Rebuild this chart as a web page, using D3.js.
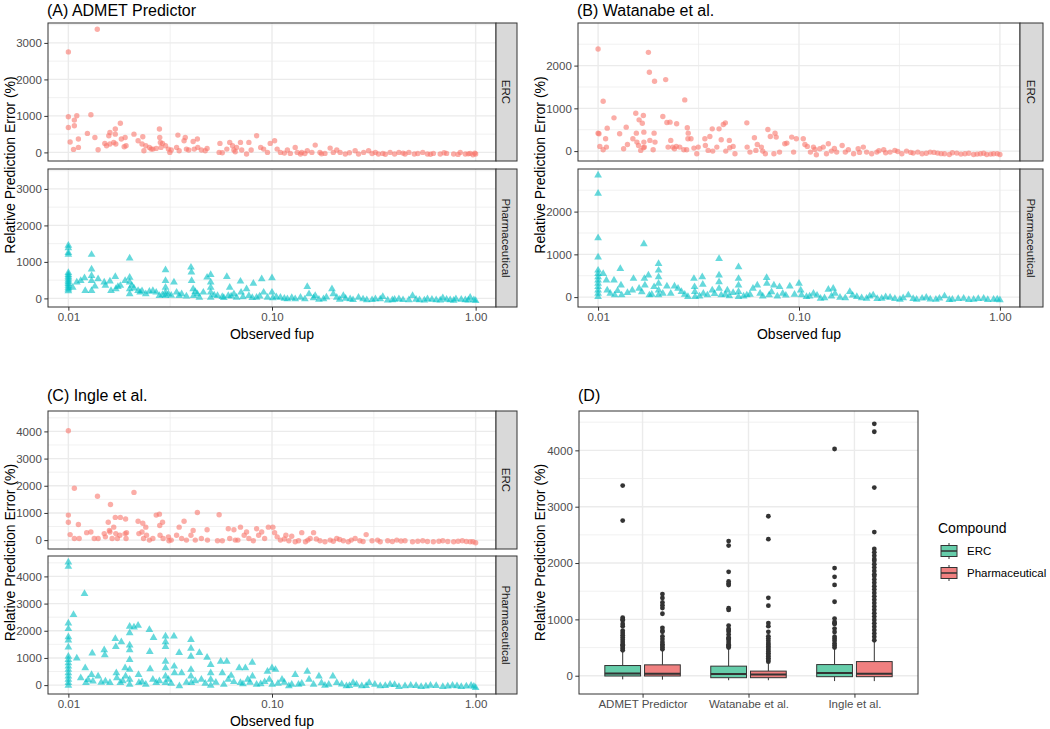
<!DOCTYPE html>
<html><head><meta charset="utf-8">
<script src="https://cdn.jsdelivr.net/npm/d3@7"></script>
<style>body{margin:0;background:#fff} text{font-family:"Liberation Sans",Arial,sans-serif}</style>
</head><body><svg id="c" width="1050" height="729"></svg>
<script>
// ---------- DATA: [observed fup, relative prediction error %] ----------
const admetERC = [[0.01,2754],[0.01387,3374],[0.01,976],[0.01,684],[0.0102,283],[0.0106,82],[0.0107,885],[0.0107,730],[0.011,1003],[0.0112,365],[0.0112,137],[0.0124,520],[0.0129,1030],[0.0135,410],[0.014,73],[0.0151,246],[0.0154,182],[0.0158,456],[0.016,547],[0.016,228],[0.0167,274],[0.017,640],[0.017,500],[0.0171,230],[0.018,800],[0.0182,365],[0.019,410],[0.0192,180],[0.0188,155],[0.021,500],[0.022,320],[0.023,228],[0.0232,430],[0.0235,45],[0.024,182],[0.025,137],[0.0255,90],[0.026,90],[0.027,110],[0.028,640],[0.0281,410],[0.0283,274],[0.0285,137],[0.029,246],[0.030,182],[0.031,90],[0.0315,0],[0.032,64],[0.034,137],[0.0345,474],[0.035,45],[0.037,320],[0.0375,410],[0.038,90],[0.039,64],[0.041,300],[0.0415,90],[0.043,365],[0.0432,137],[0.045,64],[0.047,45],[0.048,110],[0.055,0],[0.0555,246],[0.057,-10],[0.060,90],[0.062,274],[0.064,182],[0.065,64],[0.066,18],[0.067,137],[0.070,274],[0.071,64],[0.075,-45],[0.077,274],[0.079,64],[0.084,456],[0.088,137],[0.091,90],[0.095,0],[0.098,246],[0.103,320],[0.106,90],[0.110,0],[0.119,64],[0.123,-27],[0.130,137],[0.133,0],[0.138,-45],[0.140,0],[0.149,45],[0.157,0],[0.163,200],[0.172,0],[0.182,-27],[0.193,118],[0.200,0],[0.208,64],[0.216,0],[0.229,-45],[0.256,45],[0.266,-45],[0.282,0],[0.298,45],[0.322,0],[0.333,-45],[0.35,-27],[0.38,0],[0.40,-45],[0.42,0],[0.45,-45],[0.47,0],[0.50,-45],[0.55,0],[0.58,-45],[0.62,-27],[0.67,-45],[0.72,-27],[0.78,-45],[0.84,0],[0.89,-45],[0.94,-27],[0.97,-64],[1.0,-45],[0.115,-20],[0.145,-30],[0.175,-40],[0.24,-10],[0.31,-30],[0.36,-50],[0.44,-20],[0.52,-30],[0.60,-50],[0.70,-10],[0.82,-55],[0.92,-40],[0.99,-20]];

const admetPharm = [[0.01,1450],[0.01,1380],[0.01,1250],[0.01,1200],[0.01,700],[0.01,650],[0.01,600],[0.01,550],[0.01,500],[0.01,450],[0.01,400],[0.01,350],[0.01,300],[0.01,250],[0.01,200],[0.011,440],[0.0115,485],[0.012,560],[0.0121,210],[0.013,1200],[0.013,800],[0.013,620],[0.013,485],[0.013,210],[0.014,530],[0.015,440],[0.0152,350],[0.016,470],[0.0162,210],[0.017,595],[0.0171,256],[0.018,350],[0.019,485],[0.02,1100],[0.02,575],[0.02,440],[0.02,256],[0.02,120],[0.0205,350],[0.022,210],[0.0225,165],[0.024,120],[0.025,190],[0.026,210],[0.027,165],[0.028,73],[0.03,780],[0.03,485],[0.03,300],[0.03,165],[0.03,73],[0.031,120],[0.033,440],[0.034,165],[0.035,73],[0.036,120],[0.04,850],[0.0402,715],[0.0403,485],[0.041,256],[0.0412,73],[0.043,120],[0.044,27],[0.046,165],[0.048,576],[0.05,650],[0.05,440],[0.05,300],[0.05,165],[0.05,27],[0.054,73],[0.057,45],[0.06,595],[0.061,73],[0.062,300],[0.065,120],[0.067,27],[0.07,467],[0.0705,165],[0.075,256],[0.077,73],[0.081,410],[0.084,27],[0.089,530],[0.091,165],[0.095,27],[0.1,560],[0.1,165],[0.101,10],[0.11,27],[0.119,-18],[0.13,-18],[0.138,27],[0.149,320],[0.152,120],[0.163,73],[0.179,-18],[0.197,256],[0.2,120],[0.208,27],[0.224,73],[0.242,-18],[0.266,27],[0.292,-45],[0.322,-18],[0.35,45],[0.39,-45],[0.42,-18],[0.47,-45],[0.49,73],[0.53,-45],[0.58,-18],[0.64,-45],[0.69,10],[0.75,-45],[0.8,-18],[0.89,-45],[0.94,27],[1.0,-64],[0.0105,300],[0.0135,330],[0.0175,320],[0.021,280],[0.023,200],[0.029,100],[0.032,80],[0.038,60],[0.042,180],[0.052,90],[0.058,20],[0.063,60],[0.072,40],[0.08,20],[0.087,60],[0.105,40],[0.115,0],[0.125,20],[0.145,-20],[0.16,10],[0.17,-30],[0.185,30],[0.215,-30],[0.23,0],[0.25,-40],[0.28,-20],[0.31,-40],[0.34,-20],[0.37,-50],[0.4,-30],[0.44,-40],[0.51,-30],[0.56,-50],[0.61,-30],[0.67,-50],[0.72,-30],[0.78,-55],[0.85,-30],[0.92,-50],[0.98,-40]];

const watERC = [[0.01,2390],[0.01,420],[0.0101,405],[0.0102,110],[0.0106,1167],[0.0106,30],[0.0109,288],[0.011,93],[0.0111,537],[0.012,778],[0.0128,405],[0.0134,55],[0.0138,560],[0.014,156],[0.0149,288],[0.0154,887],[0.0155,420],[0.0156,210],[0.0159,132],[0.016,731],[0.0163,16],[0.0166,653],[0.0168,78],[0.0168,832],[0.0169,443],[0.0169,210],[0.017,93],[0.0178,2310],[0.018,1844],[0.0181,250],[0.0188,30],[0.019,420],[0.0191,1634],[0.0192,210],[0.021,810],[0.0217,1673],[0.022,670],[0.0223,93],[0.0228,677],[0.023,250],[0.0235,93],[0.024,55],[0.0245,110],[0.0246,640],[0.0255,93],[0.0267,30],[0.027,1198],[0.0276,30],[0.0278,545],[0.028,288],[0.0281,420],[0.029,288],[0.03,70],[0.031,-62],[0.0315,93],[0.034,288],[0.0342,132],[0.0353,16],[0.036,342],[0.037,520],[0.0372,0],[0.039,93],[0.04,520],[0.041,265],[0.042,622],[0.043,661],[0.0432,0],[0.045,250],[0.0452,78],[0.047,110],[0.048,-62],[0.055,661],[0.0552,93],[0.057,-23],[0.06,311],[0.061,16],[0.062,156],[0.065,93],[0.066,0],[0.068,-62],[0.07,506],[0.072,342],[0.075,-62],[0.076,420],[0.077,327],[0.08,-23],[0.085,171],[0.087,187],[0.094,-23],[0.092,327],[0.097,288],[0.105,288],[0.107,156],[0.11,110],[0.114,-23],[0.118,93],[0.122,-85],[0.127,55],[0.132,93],[0.137,-62],[0.14,171],[0.145,0],[0.154,-23],[0.164,132],[0.17,-23],[0.176,30],[0.187,-62],[0.197,55],[0.209,93],[0.217,-23],[0.23,-62],[0.244,-23],[0.264,30],[0.284,-23],[0.3,16],[0.325,-62],[0.343,0],[0.37,-47],[0.39,-23],[0.41,-62],[0.45,-23],[0.49,-47],[0.53,-62],[0.56,-78],[0.61,-47],[0.67,-62],[0.74,-78],[0.8,-62],[0.86,-78],[0.93,-62],[1.0,-78],[0.12,40],[0.15,60],[0.2,-30],[0.25,10],[0.27,-40],[0.31,-10],[0.36,-30],[0.43,-50],[0.47,-30],[0.51,-60],[0.58,-40],[0.64,-70],[0.7,-50],[0.77,-70],[0.83,-50],[0.9,-70],[0.97,-60]];

const watPharm = [[0.01,2850],[0.01,2424],[0.01,1382],[0.01,934],[0.01,625],[0.01,548],[0.01,471],[0.01,394],[0.01,316],[0.01,239],[0.01,162],[0.01,85],[0.01,8],[0.0106,548],[0.011,394],[0.0111,162],[0.0115,85],[0.012,394],[0.0121,46],[0.0129,664],[0.013,278],[0.0131,46],[0.014,100],[0.0148,162],[0.015,432],[0.016,200],[0.0169,1243],[0.017,432],[0.0171,278],[0.0178,510],[0.018,46],[0.019,239],[0.02,780],[0.02,625],[0.02,471],[0.02,316],[0.02,162],[0.02,46],[0.021,85],[0.022,255],[0.023,85],[0.024,255],[0.025,200],[0.026,124],[0.028,8],[0.03,432],[0.0302,239],[0.0303,124],[0.0304,8],[0.033,471],[0.0332,293],[0.0334,85],[0.035,46],[0.037,162],[0.04,895],[0.04,510],[0.04,355],[0.04,200],[0.041,46],[0.044,162],[0.045,23],[0.05,703],[0.05,432],[0.05,278],[0.05,124],[0.05,8],[0.055,46],[0.059,200],[0.062,278],[0.064,85],[0.069,455],[0.0692,316],[0.071,46],[0.075,278],[0.08,239],[0.083,85],[0.09,255],[0.1,316],[0.102,162],[0.103,46],[0.109,8],[0.118,85],[0.128,-31],[0.14,178],[0.148,200],[0.151,85],[0.16,-8],[0.179,124],[0.194,8],[0.217,-31],[0.234,46],[0.258,-31],[0.284,-8],[0.318,-54],[0.35,46],[0.385,-54],[0.43,-8],[0.48,-54],[0.53,23],[0.58,-54],[0.66,-31],[0.74,-54],[0.83,-31],[0.93,-54],[1.0,-70],[0.0125,150],[0.0165,120],[0.0185,60],[0.027,60],[0.032,20],[0.038,80],[0.043,60],[0.047,100],[0.053,20],[0.057,60],[0.066,20],[0.073,120],[0.078,20],[0.086,40],[0.095,60],[0.113,20],[0.123,40],[0.134,-20],[0.145,20],[0.17,-20],[0.185,40],[0.205,-20],[0.225,20],[0.245,-40],[0.27,0],[0.3,-40],[0.33,-20],[0.37,-40],[0.41,-30],[0.45,-50],[0.5,-30],[0.56,-60],[0.62,-40],[0.7,-60],[0.78,-40],[0.87,-60],[0.97,-50]];

const ingERC = [[0.01,4024],[0.01,920],[0.01,657],[0.0102,203],[0.0107,1910],[0.0107,60],[0.0112,573],[0.0113,60],[0.0123,275],[0.0129,300],[0.0134,60],[0.0139,1612],[0.014,60],[0.015,240],[0.0152,120],[0.0157,657],[0.0159,358],[0.016,300],[0.0161,1313],[0.0164,60],[0.0167,478],[0.017,836],[0.0171,240],[0.0174,60],[0.018,836],[0.0179,180],[0.019,240],[0.0191,776],[0.0192,60],[0.0193,275],[0.021,1755],[0.022,692],[0.0222,240],[0.023,300],[0.0232,620],[0.0234,60],[0.024,478],[0.0242,180],[0.025,0],[0.026,60],[0.027,920],[0.028,955],[0.0281,537],[0.0282,180],[0.029,657],[0.0292,60],[0.031,120],[0.0312,-24],[0.032,0],[0.034,180],[0.035,478],[0.036,60],[0.037,692],[0.038,0],[0.04,180],[0.041,358],[0.042,0],[0.043,1015],[0.045,60],[0.048,382],[0.0482,0],[0.054,-24],[0.055,931],[0.057,-24],[0.061,418],[0.062,60],[0.065,382],[0.066,0],[0.068,0],[0.07,478],[0.073,180],[0.075,300],[0.077,60],[0.081,-24],[0.084,418],[0.086,180],[0.089,300],[0.092,60],[0.096,478],[0.101,478],[0.103,275],[0.106,120],[0.11,0],[0.117,180],[0.121,-24],[0.125,143],[0.13,-60],[0.135,-24],[0.14,275],[0.146,-60],[0.154,60],[0.16,275],[0.172,-24],[0.182,-60],[0.193,0],[0.208,60],[0.224,-24],[0.237,-60],[0.256,60],[0.27,-24],[0.29,203],[0.31,-24],[0.34,-60],[0.37,-24],[0.41,0],[0.45,-24],[0.49,-60],[0.55,-24],[0.62,-60],[0.69,-24],[0.78,-60],[0.86,-24],[0.94,-60],[1.0,-95],[0.115,40],[0.15,0],[0.165,40],[0.2,-40],[0.215,20],[0.245,0],[0.28,-50],[0.33,0],[0.39,-50],[0.43,-30],[0.52,-40],[0.58,-50],[0.66,-40],[0.73,-50],[0.82,-40],[0.9,-50],[0.97,-60]];

const ingPharm = [[0.01,4520],[0.01,4360],[0.01,2280],[0.01,2070],[0.01,1770],[0.01,1650],[0.01,1390],[0.01,1050],[0.01,930],[0.01,810],[0.01,690],[0.01,570],[0.01,450],[0.01,325],[0.01,205],[0.01,85],[0.01,-12],[0.0106,2590],[0.011,990],[0.0115,265],[0.012,3360],[0.0121,630],[0.0122,85],[0.013,385],[0.0131,1170],[0.0132,145],[0.014,325],[0.015,1290],[0.0151,1110],[0.0152,145],[0.016,85],[0.017,1710],[0.0171,1410],[0.0172,445],[0.0173,265],[0.018,85],[0.0182,1590],[0.019,630],[0.0191,325],[0.02,2160],[0.02,1920],[0.02,1470],[0.02,1290],[0.02,930],[0.02,570],[0.02,205],[0.02,25],[0.021,2130],[0.022,2190],[0.0221,385],[0.0222,85],[0.024,25],[0.025,2040],[0.0251,1230],[0.0252,590],[0.026,205],[0.0262,1740],[0.027,85],[0.03,1800],[0.03,1590],[0.03,1410],[0.03,870],[0.03,630],[0.03,325],[0.03,85],[0.031,205],[0.033,1800],[0.0331,690],[0.0332,445],[0.035,1190],[0.0351,-36],[0.036,445],[0.04,1670],[0.04,1350],[0.04,1050],[0.04,570],[0.04,325],[0.0402,85],[0.044,1190],[0.045,205],[0.048,1020],[0.05,750],[0.05,445],[0.05,205],[0.05,-12],[0.056,870],[0.057,445],[0.06,870],[0.061,205],[0.063,350],[0.069,630],[0.07,85],[0.074,630],[0.076,205],[0.08,830],[0.0802,325],[0.084,25],[0.095,505],[0.097,205],[0.1,630],[0.1002,25],[0.104,570],[0.112,205],[0.121,-36],[0.13,385],[0.135,25],[0.149,505],[0.152,205],[0.17,325],[0.182,-12],[0.199,325],[0.208,85],[0.232,-36],[0.25,85],[0.276,-36],[0.3,85],[0.34,-36],[0.38,25],[0.42,-60],[0.48,-12],[0.54,-60],[0.6,-12],[0.69,-60],[0.77,-12],[0.85,-60],[0.95,-12],[1.0,-96],[0.0125,200],[0.0145,100],[0.0185,150],[0.023,120],[0.028,150],[0.032,60],[0.038,100],[0.042,150],[0.047,60],[0.053,100],[0.058,20],[0.065,120],[0.072,40],[0.078,100],[0.088,40],[0.092,120],[0.107,60],[0.115,100],[0.125,20],[0.14,60],[0.16,20],[0.175,80],[0.19,20],[0.22,30],[0.24,-20],[0.26,20],[0.29,-20],[0.32,20],[0.36,-20],[0.4,10],[0.45,-30],[0.51,-20],[0.57,-40],[0.64,-20],[0.73,-40],[0.81,-30],[0.9,-40],[0.98,-50]];

// ---------- Panel D boxplot summaries ----------
const methods = ["ADMET Predictor", "Watanabe et al.", "Ingle et al."];
const compounds = ["ERC", "Pharmaceutical"];
const ercWhiskerLo = [-65, -80, -95];
const ercQ1 = [-5, -35, -17];
const ercMedian = [40, 30, 47];
const ercQ3 = [181, 170, 198];
const ercWhiskerHi = [426, 474, 474];
const ercOutliers = [
  [450,480,510,540,560,600,640,680,720,760,800,880,920,980,1003,1030,2754,3374],
  [500,520,540,560,600,640,660,680,730,780,810,830,890,1167,1198,1610,1634,1673,1844,2310,2390],
  [500,537,573,620,657,692,776,836,920,931,955,1015,1313,1612,1755,1910,4024]
];
const phWhiskerLo = [-70, -80, -96];
const phQ1 = [-5, -35, -17];
const phMedian = [35, 23, 35];
const phQ3 = [193, 82, 251];
const phWhiskerHi = [461, 240, 620];
const phOutliers = [
  [470,500,530,560,600,650,700,780,800,850,1100,1200,1250,1300,1380,1450],
  [250,280,310,340,370,400,430,460,490,520,550,580,620,660,700,780,880,934,1243,1382,2424,2830],
  [630,690,750,810,870,930,990,1050,1110,1170,1230,1290,1350,1410,1470,1530,1590,1650,1710,1770,1800,1860,1920,1980,2040,2070,2130,2190,2250,2550,3340,4330,4470]
];

// ---------- DRAWING ----------
const svg = d3.select("#c");
const ERC_COL = "#F8766D", PH_COL = "#00BFC4";
const ERC_FILL = "#66CDAA", PH_FILL = "#F08080";
const GRID = "#EBEBEB", DARK = "#333333", TICKTXT = "#4D4D4D";
const tickFont = "11.5px";

svg.append("rect").attr("width", 1050).attr("height", 729).attr("fill", "#fff");

function expandDomain(vals) {
  const [a, b] = d3.extent(vals); const p = (b - a) * 0.05; return [a - p, b + p];
}
function minorsOf(ticks, dom) {
  const step = ticks[1] - ticks[0], out = [];
  for (let t = ticks[0] - step / 2; t <= dom[1]; t += step) if (t >= dom[0]) out.push(t);
  return out;
}
function styleAxis(g) {
  g.select(".domain").remove();
  g.selectAll(".tick line").attr("stroke", DARK).attr("stroke-width", 1);
  g.selectAll(".tick text").attr("fill", TICKTXT).style("font-size", tickFont)
    .style("font-family", "'Liberation Sans', Arial, sans-serif");
}

function facetPanel(cfg) {
  const allData = cfg.facets.map(f => f.data).flat();
  const lx = expandDomain(allData.map(d => Math.log10(d[0])));
  const x = d3.scaleLog().domain([10 ** lx[0], 10 ** lx[1]]).range([cfg.left, cfg.right]);
  const ydom = expandDomain(allData.map(d => d[1]));
  const xMajor = [0.01, 0.1, 1];
  const xMinor = [10 ** -1.5, 10 ** -0.5];
  const yMinor = minorsOf(cfg.yTicks, ydom);

  cfg.facets.forEach((f, i) => {
    const y = d3.scaleLinear().domain(ydom).range([f.bottom, f.top]);
    const g = svg.append("g");
    g.append("rect").attr("x", cfg.left).attr("y", f.top).attr("width", cfg.right - cfg.left)
      .attr("height", f.bottom - f.top).attr("fill", "#fff");
    g.selectAll(".ymin").data(yMinor).join("line").attr("x1", cfg.left).attr("x2", cfg.right)
      .attr("y1", d => y(d)).attr("y2", d => y(d)).attr("stroke", GRID).attr("stroke-width", 0.7);
    g.selectAll(".xmin").data(xMinor).join("line").attr("y1", f.top).attr("y2", f.bottom)
      .attr("x1", d => x(d)).attr("x2", d => x(d)).attr("stroke", GRID).attr("stroke-width", 0.7);
    g.selectAll(".ymaj").data(cfg.yTicks).join("line").attr("x1", cfg.left).attr("x2", cfg.right)
      .attr("y1", d => y(d)).attr("y2", d => y(d)).attr("stroke", GRID).attr("stroke-width", 1.4);
    g.selectAll(".xmaj").data(xMajor).join("line").attr("y1", f.top).attr("y2", f.bottom)
      .attr("x1", d => x(d)).attr("x2", d => x(d)).attr("stroke", GRID).attr("stroke-width", 1.4);

    if (f.shape === "circle") {
      g.selectAll(".pt").data(f.data).join("circle")
        .attr("cx", d => x(d[0])).attr("cy", d => y(d[1])).attr("r", 2.7)
        .attr("fill", ERC_COL).attr("fill-opacity", 0.6);
    } else {
      const sym = d3.symbol(d3.symbolTriangle, 26);
      g.selectAll(".pt").data(f.data).join("path").attr("d", sym)
        .attr("transform", d => `translate(${x(d[0])},${y(d[1])})`)
        .attr("fill", PH_COL).attr("fill-opacity", 0.6);
    }
    g.append("rect").attr("x", cfg.left).attr("y", f.top).attr("width", cfg.right - cfg.left)
      .attr("height", f.bottom - f.top).attr("fill", "none").attr("stroke", DARK).attr("stroke-width", 1);
    // strip
    g.append("rect").attr("x", cfg.right).attr("y", f.top).attr("width", cfg.stripW)
      .attr("height", f.bottom - f.top).attr("fill", "#D9D9D9").attr("stroke", DARK).attr("stroke-width", 1);
    g.append("text").attr("transform", `translate(${cfg.right + cfg.stripW / 2},${(f.top + f.bottom) / 2}) rotate(90)`)
      .attr("text-anchor", "middle").attr("dy", "0.35em").attr("fill", "#1A1A1A")
      .style("font-size", "11.5px").text(f.label);
    // y axis
    const ax = svg.append("g").attr("transform", `translate(${cfg.left},0)`)
      .call(d3.axisLeft(y).tickValues(cfg.yTicks).tickFormat(d3.format("d")).tickSize(3.7).tickPadding(2.5));
    styleAxis(ax);
  });
  const last = cfg.facets[cfg.facets.length - 1];
  const axb = svg.append("g").attr("transform", `translate(0,${last.bottom})`)
    .call(d3.axisBottom(x).tickValues(xMajor).tickFormat(d3.format(".2f")).tickSize(3.7).tickPadding(2.5));
  styleAxis(axb);
  svg.append("text").attr("x", (cfg.left + cfg.right) / 2).attr("y", last.bottom + 32)
    .attr("text-anchor", "middle").style("font-size", "14px").attr("fill", "#000").text("Observed fup");
  const first = cfg.facets[0];
  svg.append("text").attr("transform", `translate(${cfg.yTitleX},${(first.top + last.bottom) / 2}) rotate(-90)`)
    .attr("text-anchor", "middle").attr("dy", "0.35em").style("font-size", "14px").attr("fill", "#000")
    .text("Relative Prediction Error (%)");
  svg.append("text").attr("x", cfg.left - 1).attr("y", cfg.titleY).style("font-size", "16px")
    .attr("fill", "#000").text(cfg.title);
}

facetPanel({ title: "(A) ADMET Predictor", titleY: 16, left: 48, right: 496, stripW: 21, yTitleX: 10,
  yTicks: [0, 1000, 2000, 3000],
  facets: [{ top: 23, bottom: 161, label: "ERC", data: admetERC, shape: "circle" },
           { top: 169, bottom: 307, label: "Pharmaceutical", data: admetPharm, shape: "triangle" }] });
facetPanel({ title: "(B) Watanabe et al.", titleY: 16, left: 578, right: 1020, stripW: 23, yTitleX: 540,
  yTicks: [0, 1000, 2000],
  facets: [{ top: 23, bottom: 161, label: "ERC", data: watERC, shape: "circle" },
           { top: 169, bottom: 307, label: "Pharmaceutical", data: watPharm, shape: "triangle" }] });
facetPanel({ title: "(C) Ingle et al.", titleY: 401, left: 48, right: 496, stripW: 21, yTitleX: 10,
  yTicks: [0, 1000, 2000, 3000, 4000],
  facets: [{ top: 411, bottom: 549, label: "ERC", data: ingERC, shape: "circle" },
           { top: 556, bottom: 694, label: "Pharmaceutical", data: ingPharm, shape: "triangle" }] });

// ---------- Panel D ----------
(function () {
  const L = 579, R = 918, T = 411, B = 694;
  const stats = compounds.map((c, ci) => methods.map((m, mi) => ({
    method: m, compound: c,
    lo: (ci ? phWhiskerLo : ercWhiskerLo)[mi], q1: (ci ? phQ1 : ercQ1)[mi],
    med: (ci ? phMedian : ercMedian)[mi], q3: (ci ? phQ3 : ercQ3)[mi],
    hi: (ci ? phWhiskerHi : ercWhiskerHi)[mi], out: (ci ? phOutliers : ercOutliers)[mi],
    ci
  }))).flat();
  const allVals = stats.map(s => [s.lo, s.hi, ...s.out]).flat();
  const ydom = expandDomain(allVals);
  const y = d3.scaleLinear().domain(ydom).range([B, T]);
  const x = d3.scalePoint().domain(methods).range([L, R]).padding(0.6);
  const slot = x.step() * 0.75 / 2;
  const bw = slot * 0.9;
  const yTicks = [0, 1000, 2000, 3000, 4000];
  const g = svg.append("g");
  g.append("rect").attr("x", L).attr("y", T).attr("width", R - L).attr("height", B - T).attr("fill", "#fff");
  g.selectAll(".ymin").data(minorsOf(yTicks, ydom)).join("line").attr("x1", L).attr("x2", R)
    .attr("y1", d => y(d)).attr("y2", d => y(d)).attr("stroke", GRID).attr("stroke-width", 0.7);
  g.selectAll(".ymaj").data(yTicks).join("line").attr("x1", L).attr("x2", R)
    .attr("y1", d => y(d)).attr("y2", d => y(d)).attr("stroke", GRID).attr("stroke-width", 1.4);
  g.selectAll(".xmaj").data(methods).join("line").attr("y1", T).attr("y2", B)
    .attr("x1", d => x(d)).attr("x2", d => x(d)).attr("stroke", GRID).attr("stroke-width", 1.4);

  stats.forEach(s => {
    const cx = x(s.method) + (s.ci ? slot / 2 : -slot / 2);
    const bg = g.append("g");
    bg.append("line").attr("x1", cx).attr("x2", cx).attr("y1", y(s.q3)).attr("y2", y(s.hi)).attr("stroke", DARK).attr("stroke-width", 1);
    bg.append("line").attr("x1", cx).attr("x2", cx).attr("y1", y(s.q1)).attr("y2", y(s.lo)).attr("stroke", DARK).attr("stroke-width", 1);
    bg.append("rect").attr("x", cx - bw / 2).attr("width", bw).attr("y", y(s.q3)).attr("height", y(s.q1) - y(s.q3))
      .attr("fill", s.ci ? PH_FILL : ERC_FILL).attr("stroke", DARK).attr("stroke-width", 1);
    bg.append("line").attr("x1", cx - bw / 2).attr("x2", cx + bw / 2).attr("y1", y(s.med)).attr("y2", y(s.med))
      .attr("stroke", DARK).attr("stroke-width", 2);
    bg.selectAll("circle").data(s.out).join("circle").attr("cx", cx).attr("cy", d => y(d)).attr("r", 2.4).attr("fill", DARK);
  });
  g.append("rect").attr("x", L).attr("y", T).attr("width", R - L).attr("height", B - T)
    .attr("fill", "none").attr("stroke", DARK).attr("stroke-width", 1);
  const ay = svg.append("g").attr("transform", `translate(${L},0)`)
    .call(d3.axisLeft(y).tickValues(yTicks).tickFormat(d3.format("d")).tickSize(3.7).tickPadding(2.5));
  styleAxis(ay);
  const axb = svg.append("g").attr("transform", `translate(0,${B})`)
    .call(d3.axisBottom(x).tickSize(3.7).tickPadding(2.5));
  styleAxis(axb);
  svg.append("text").attr("transform", `translate(540,${(T + B) / 2}) rotate(-90)`)
    .attr("text-anchor", "middle").attr("dy", "0.35em").style("font-size", "14px").text("Relative Prediction Error (%)");
  svg.append("text").attr("x", L - 1).attr("y", 401).style("font-size", "16px").text("(D)");

  // legend
  const lg = svg.append("g");
  lg.append("text").attr("x", 938).attr("y", 533).style("font-size", "14px").text("Compound");
  compounds.forEach((c, i) => {
    const cy = 551 + i * 22, kx = 940, kw = 18, kh = 18;
    const k = lg.append("g");
    k.append("line").attr("x1", kx + kw / 2).attr("x2", kx + kw / 2).attr("y1", cy - kh / 2 + 1).attr("y2", cy + kh / 2 - 1)
      .attr("stroke", DARK).attr("stroke-width", 1);
    k.append("rect").attr("x", kx + 1).attr("y", cy - 5.5).attr("width", kw - 2).attr("height", 11)
      .attr("fill", i ? PH_FILL : ERC_FILL).attr("stroke", DARK).attr("stroke-width", 1);
    k.append("line").attr("x1", kx + 1).attr("x2", kx + kw - 1).attr("y1", cy).attr("y2", cy).attr("stroke", DARK).attr("stroke-width", 1.5);
    lg.append("text").attr("x", 967).attr("y", cy).attr("dy", "0.35em").style("font-size", "11.5px").attr("fill", "#000").text(c);
  });
})();
</script></body></html>
